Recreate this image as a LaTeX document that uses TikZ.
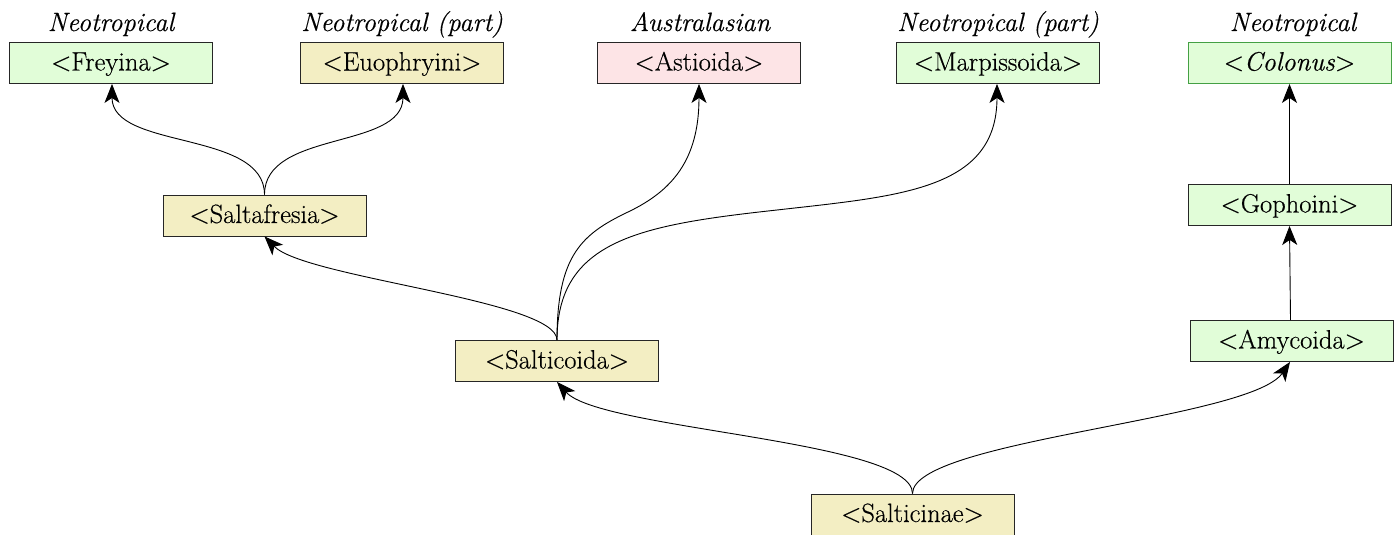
\documentclass[tikz,border=0pt]{standalone}
\usepackage{fontspec}
\newfontfamily\boxfont{Latin Modern Roman}[FakeBold=0.4]
\usetikzlibrary{arrows.meta}
\definecolor{gfill}{HTML}{E1FDD8}
\definecolor{yfill}{HTML}{F3EEC3}
\definecolor{pfill}{HTML}{FDE4E6}
\definecolor{gline}{HTML}{44A044}
\begin{document}
\begin{tikzpicture}[x=1pt,y=-1pt,
  box/.style={draw=black!85, line width=0.9pt, minimum width=203pt, minimum height=41pt, inner sep=0pt, text height=19pt, text depth=4pt, font=\boxfont\fontsize{26.5}{30}\selectfont},
  gbox/.style={box, fill=gfill},
  ybox/.style={box, fill=yfill},
  pbox/.style={box, fill=pfill},
  region/.style={font=\boxfont\fontsize{26.5}{30}\selectfont\itshape, inner sep=0pt, anchor=base},
  edge/.style={line width=0.9pt, -{Stealth[length=19pt,width=15pt,inset=5pt]}}
]
\useasboundingbox (0,0) rectangle (1400,535);
\node[gbox] (freyina) at (111,63) {<Freyina>};
\node[ybox] (euo) at (402,63) {<Euophryini>};
\node[pbox] (astio) at (699,63) {<Astioida>};
\node[gbox] (marp) at (998,63) {<Marpissoida>};
\node[gbox, draw=gline] (colonus) at (1289.5,63) {<\textit{Colonus}>};
\node[ybox] (saltaf) at (264.5,215.5) {<Saltafresia>};
\node[gbox] (goph) at (1289.5,205) {<Gophoini>};
\node[ybox] (salticoida) at (557,361) {<Salticoida>};
\node[gbox] (amy) at (1291.5,341) {<Amycoida>};
\node[ybox] (salticinae) at (912.5,514.5) {<Salticinae>};

\node[region] (r1) at (111,31) {Neotropical};
\node[region] (r2) at (402,31) {Neotropical (part)};
\node[region] (r3) at (700,31) {Australasian};
\node[region] (r4) at (998,31) {Neotropical (part)};
\node[region] (r5) at (1293,31) {Neotropical};

\draw[edge] (saltaf.north) .. controls (264.5,130) and (112,150) .. (freyina.south -| 112,0);
\draw[edge] (saltaf.north) .. controls (264.5,130) and (403,150) .. (euo.south -| 403,0);
\draw[edge] (salticoida.north) .. controls (557,300) and (305,278) .. (saltaf.south);
\draw[edge] (salticoida.north) .. controls (557,255) and (582,234) .. (628,212) .. controls (672,191) and (699,160) .. (astio.south);
\draw[edge] (salticoida.north) .. controls (557,240) and (640,225) .. (777,210) .. controls (900,196) and (997,190) .. (marp.south -| 997,0);
\draw[edge] (salticinae.north) .. controls (912.5,440) and (600,430) .. (salticoida.south);
\draw[edge] (salticinae.north) .. controls (912.5,440) and (1250,420) .. (amy.south -| 1290,0);
\draw[edge] (amy.north -| 1290.5,0) -- (goph.south);
\draw[edge] (goph) -- (colonus);
\end{tikzpicture}
\end{document}
